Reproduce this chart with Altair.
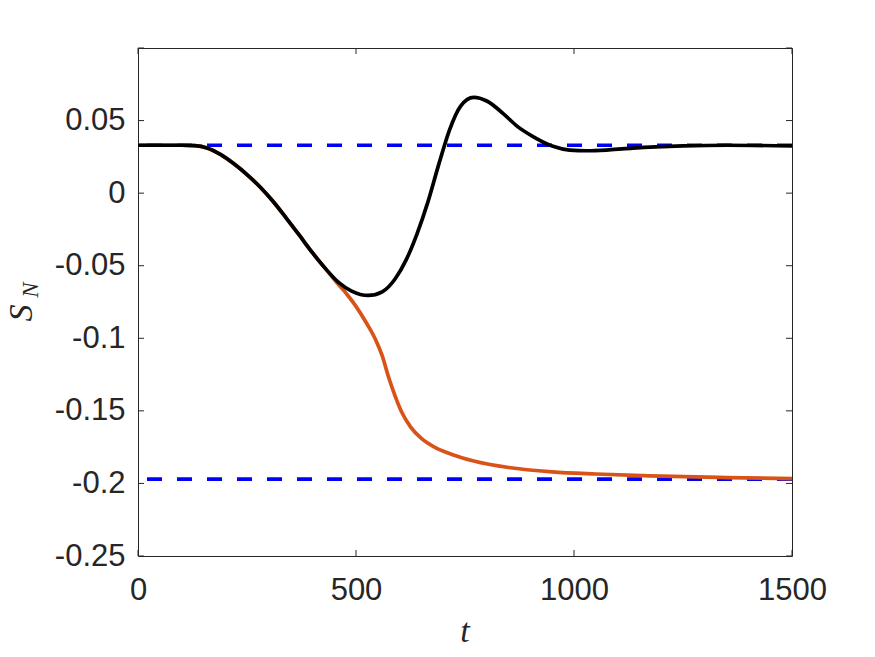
import altair as alt
import pandas as pd

# ---- data ----
t_black = [0, 100, 130, 160, 190, 220, 250, 280, 310, 340, 370, 400, 430, 460, 490,
           528, 560, 590, 615, 640, 665, 690, 715, 740, 770, 800, 837, 870, 906, 950,
           990, 1030, 1080, 1135, 1250, 1350, 1500]
s_black = [0.033, 0.033, 0.0328, 0.031, 0.0265, 0.0202, 0.0128, 0.0042, -0.0058, -0.0172,
           -0.029, -0.041, -0.052, -0.0615, -0.0675, -0.0705, -0.068, -0.059, -0.046,
           -0.028, -0.006, 0.020, 0.044, 0.060, 0.066, 0.0635, 0.055, 0.046, 0.039,
           0.0325, 0.0297, 0.0292, 0.0298, 0.031, 0.0325, 0.033, 0.0325]

t_orange = [0, 100, 130, 160, 190, 220, 250, 280, 310, 340, 370, 400, 430, 460, 480,
            500, 525, 545, 560, 575, 590, 605, 625, 650, 680, 720, 770, 850, 950, 1050,
            1174, 1350, 1500]
s_orange = [0.033, 0.033, 0.0328, 0.031, 0.0265, 0.0202, 0.0128, 0.0042, -0.0058, -0.0172,
            -0.029, -0.041, -0.052, -0.063, -0.070, -0.078, -0.090, -0.101, -0.112,
            -0.127, -0.140, -0.151, -0.161, -0.169, -0.175, -0.180, -0.1845, -0.189,
            -0.192, -0.1935, -0.1948, -0.196, -0.1967]

eq_levels = [0.033, -0.197]

x_ticks = [0, 500, 1000, 1500]
y_ticks = [-0.25, -0.2, -0.15, -0.1, -0.05, 0, 0.05, 0.1]
y_labels = [-0.25, -0.2, -0.15, -0.1, -0.05, 0, 0.05]

W, H = 654, 508
AX = "#262626"
FONT = "Liberation Sans"

xs = alt.Scale(domain=[0, 1500], nice=False, zero=False)
ys = alt.Scale(domain=[-0.25, 0.1], nice=False, zero=False)

xax = alt.Axis(values=x_ticks, ticks=False, domain=False, grid=False, title=None,
               labelFontSize=31, labelFont=FONT, labelColor=AX, labelPadding=19,
               labelFlush=False, labelOverlap=False, format="d")
yax = alt.Axis(values=y_labels, ticks=False, domain=False, grid=False, title=None,
               labelFontSize=31, labelFont=FONT, labelColor=AX, labelPadding=13,
               labelFlush=False, labelOverlap=False,
               labelExpr="replace(format(datum.value, '~g'), '\u2212', '-')")

X = alt.X("t:Q", scale=xs, axis=xax)
Y = alt.Y("s:Q", scale=ys, axis=yax)

df_black = pd.DataFrame({"t": t_black, "s": s_black})
df_orange = pd.DataFrame({"t": t_orange, "s": s_orange})
df_eq = pd.DataFrame({"s": eq_levels})
df_xt = pd.DataFrame({"t": x_ticks})
df_yt = pd.DataFrame({"s": y_ticks})

LW = 3.7
dashed = alt.Chart(df_eq).mark_rule(color="#0000FF", strokeWidth=LW,
                                    strokeDash=[15, 15]).encode(y=Y)
orange = alt.Chart(df_orange).mark_line(color="#D95319", strokeWidth=LW,
                                        interpolate="monotone").encode(x=X, y=Y)
black = alt.Chart(df_black).mark_line(color="#000000", strokeWidth=LW,
                                      interpolate="monotone").encode(x=X, y=Y)

tk = dict(color=AX, strokeWidth=1)
xt_bot = alt.Chart(df_xt).mark_rule(**tk).encode(x=X, y=alt.value(H), y2=alt.value(H - 6))
xt_top = alt.Chart(df_xt).mark_rule(**tk).encode(x=X, y=alt.value(0), y2=alt.value(6))
yt_left = alt.Chart(df_yt).mark_rule(**tk).encode(y=Y, x=alt.value(0), x2=alt.value(6))
yt_right = alt.Chart(df_yt).mark_rule(**tk).encode(y=Y, x=alt.value(W - 6), x2=alt.value(W))

xtitle = alt.Chart(pd.DataFrame({"label": ["t"]})).mark_text(
    font="Liberation Serif", fontStyle="italic", fontSize=34, color=AX,
    align="center", baseline="middle").encode(
    text="label:N", x=alt.value(327), y=alt.value(584))
ytitle_s = alt.Chart(pd.DataFrame({"label": ["S"]})).mark_text(
    font="Liberation Serif", fontStyle="italic", fontSize=34, color=AX,
    align="center", baseline="middle", angle=270).encode(
    text="label:N", x=alt.value(-116), y=alt.value(265))
ytitle_n = alt.Chart(pd.DataFrame({"label": ["N"]})).mark_text(
    font="Liberation Serif", fontStyle="italic", fontSize=23, color=AX,
    align="center", baseline="middle", angle=270).encode(
    text="label:N", x=alt.value(-107), y=alt.value(242))

chart = alt.layer(
    dashed, orange, black, xt_bot, xt_top, yt_left, yt_right,
    xtitle, ytitle_s, ytitle_n
).properties(
    width=W, height=H,
    autosize=alt.AutoSizeParams(type="none"),
    padding={"left": 138, "top": 48, "right": 83, "bottom": 101},
    background="white",
).configure_view(stroke=AX, strokeWidth=1)

chart.save("out.html", embed_options={"renderer": "svg", "actions": False})
